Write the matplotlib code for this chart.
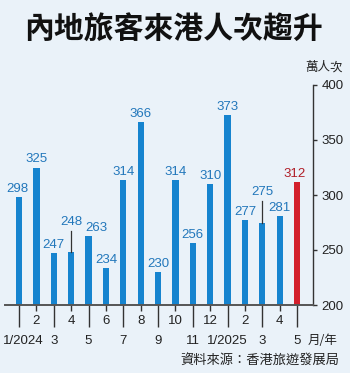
import matplotlib.pyplot as plt
from matplotlib.ticker import FixedLocator
from matplotlib.transforms import ScaledTranslation

plt.rcParams['font.family'] = ['Liberation Sans', 'Noto Sans CJK TC', 'DejaVu Sans']

# Mainland visitors to HK (10k person-trips), 1/2024 - 5/2025
values = [298, 325, 247, 248, 263, 234, 314, 366, 230, 314, 256, 310, 373, 277, 275, 281, 312]
month_labels = ["1/2024", "2", "3", "4", "5", "6", "7", "8", "9", "10", "11", "12",
                "1/2025", "2", "3", "4", "5"]
y_ticks = [200, 250, 300, 350, 400]

bg = "#eaf2f9"
blue = "#1684cf"
label_blue = "#2277bb"
red = "#d3202c"
dark = "#333333"

fig = plt.figure(figsize=(3.5, 3.73), dpi=100, facecolor=bg)
ax = fig.add_axes([5 / 350, 68 / 373, 308 / 350, 220 / 373])
ax.set_facecolor(bg)

x = list(range(len(values)))
colors = [blue] * (len(values) - 1) + [red]
ax.bar(x, [v - 200 for v in values], bottom=200, width=0.36, color=colors, zorder=2)

# value labels; two use a leader line
raised = {3: 275.5, 14: 302.7}
shift = {4: 0.45, 16: -0.15, 0: -0.1}
for i, v in enumerate(values):
    col = "#b01e28" if i == len(values) - 1 else label_blue
    if i in raised:
        ax.plot([i, i], [v, raised[i] - 8.5], color=dark, lw=0.9, zorder=3)
        ax.text(i, raised[i], str(v), ha="center", va="center", fontsize=9.5, color=col)
    else:
        ax.annotate(str(v), (i + shift.get(i, 0), v), xytext=(0, 1.5),
                    textcoords="offset points", ha="center", va="bottom",
                    fontsize=9.5, color=col)

ax.set_xlim(-0.806, 16.92)
ax.set_ylim(200, 400)

# axes styling
for s in ["top", "left"]:
    ax.spines[s].set_visible(False)
ax.spines["bottom"].set_color("#555555")
ax.spines["bottom"].set_linewidth(1.4)
ax.spines["right"].set_color(dark)
ax.spines["right"].set_linewidth(1.0)

ax.yaxis.tick_right()
ax.set_yticks(y_ticks)
ax.tick_params(axis="y", direction="out", length=3, width=1.0, color=dark,
               labelsize=9.5, labelcolor="#222222", pad=3)

major = x[0::2]
minor = x[1::2]
ax.xaxis.set_major_locator(FixedLocator(major))
ax.xaxis.set_minor_locator(FixedLocator(minor))
ax.set_xticklabels([month_labels[i] for i in major])
ax.set_xticklabels([month_labels[i] for i in minor], minor=True)
ax.tick_params(axis="x", which="major", direction="out", length=16, width=1.0,
               color=dark, labelsize=9.5, labelcolor="#222222", pad=5.5)
ax.tick_params(axis="x", which="minor", direction="out", length=4, width=1.0,
               color=dark, labelsize=9.5, labelcolor="#222222", pad=3.5)

# nudge the first label so it is not clipped
first = ax.get_xticklabels()[0]
first.set_transform(first.get_transform() + ScaledTranslation(4 / 100, 0, fig.dpi_scale_trans))

# texts
fig.text(0.497, 1 - 30 / 373, "內地旅客來港人次趨升", ha="center", va="center",
         fontsize=21.5, fontweight="black", family=["Noto Sans CJK TC"], color="#111111")
fig.text(343 / 350, 1 - 67 / 373, "萬人次", ha="right", va="center",
         fontsize=9, family=["Noto Sans CJK TC"], color="#222222")
fig.text(337 / 350, 1 - 340 / 373, "月/年", ha="right", va="center",
         fontsize=9, family=["Noto Sans CJK TC"], color="#222222")
fig.text(339 / 350, 1 - 361 / 373, "資料來源：香港旅遊發展局", ha="right", va="center",
         fontsize=9.5, family=["Noto Sans CJK TC"], color="#222222")

fig.savefig("out.png", dpi=100, facecolor=bg)
